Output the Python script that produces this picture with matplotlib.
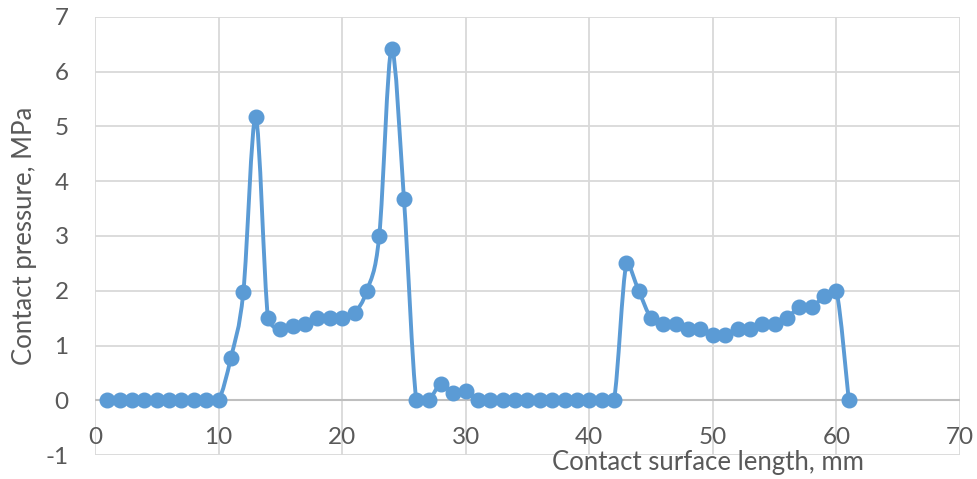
import numpy as np
import matplotlib
matplotlib.use("Agg")
import matplotlib.pyplot as plt
from matplotlib.path import Path
from matplotlib.patches import PathPatch

x_mm = list(range(1, 62))
pressure = [0, 0, 0, 0, 0, 0, 0, 0, 0, 0,
            0.78, 1.97, 5.17, 1.5, 1.3, 1.35, 1.4, 1.5, 1.5, 1.5,
            1.6, 2.0, 3.0, 6.42, 3.68, 0, 0, 0.3, 0.13, 0.17,
            0, 0, 0, 0, 0, 0, 0, 0, 0, 0,
            0, 0, 2.5, 2.0, 1.5, 1.4, 1.4, 1.3, 1.3, 1.2,
            1.2, 1.3, 1.3, 1.4, 1.4, 1.5, 1.7, 1.7, 1.9, 2.0,
            0]
x_ticks = [0, 10, 20, 30, 40, 50, 60, 70]
y_ticks = [-1, 0, 1, 2, 3, 4, 5, 6, 7]
x_label = "Contact surface length, mm"
y_label = "Contact pressure, MPa"

BLUE = "#5b9bd5"
TXT = "#595959"
GRID = "#d9d9d9"

plt.rcParams['font.family'] = ['Lato', 'DejaVu Sans']
plt.rcParams['axes.unicode_minus'] = False

fig = plt.figure(figsize=(9.78, 4.79), dpi=100)
ax = fig.add_axes([95/978, 1-455/479, (960-95)/978, (455-17)/479])
ax.set_xlim(0, 70)
ax.set_ylim(-1, 7)

# Smooth Bezier through the points, control points limited to each segment's range
px = np.array(x_mm, float)
py = np.array(pressure, float)
n = len(px)
verts = [(px[0], py[0])]
codes = [Path.MOVETO]
t = 1/6
for i in range(n-1):
    p0 = (px[max(i-1, 0)], py[max(i-1, 0)])
    p1 = (px[i], py[i])
    p2 = (px[i+1], py[i+1])
    p3 = (px[min(i+2, n-1)], py[min(i+2, n-1)])
    lo, hi = min(p1[1], p2[1]), max(p1[1], p2[1])
    c1 = (p1[0] + (p2[0]-p0[0])*t, np.clip(p1[1] + (p2[1]-p0[1])*t, lo, hi))
    c2 = (p2[0] - (p3[0]-p1[0])*t, np.clip(p2[1] - (p3[1]-p1[1])*t, lo, hi))
    verts += [c1, c2, p2]
    codes += [Path.CURVE4]*3
ax.add_patch(PathPatch(Path(verts, codes), facecolor='none', edgecolor=BLUE,
                       lw=2.8, zorder=3, capstyle='round', joinstyle='round'))
ax.plot(x_mm, pressure, linestyle='none', marker='o', markersize=10.5,
        color=BLUE, zorder=4)

ax.set_xticks(x_ticks)
ax.set_yticks(y_ticks)
ax.grid(True, color=GRID, lw=1.3, zorder=0)
ax.set_axisbelow(True)
for s in ax.spines.values():
    s.set_visible(False)
ax.axhline(0, color="#bfbfbf", lw=1.5, zorder=1)

ax.tick_params(axis='x', length=0, pad=0, labelsize=17.5, colors=TXT)
ax.tick_params(axis='y', length=0, pad=19, labelsize=17.5, colors=TXT)
for lab in ax.get_xticklabels():
    pass
ax.spines['bottom'].set_position(('data', 0))
ax.tick_params(axis='x', pad=19)

ax.set_ylabel(y_label, fontsize=18.5, color=TXT, labelpad=6)
ax.text(0.709, -0.018, x_label, transform=ax.transAxes, ha='center',
        va='center', fontsize=18.5, color=TXT)

fig.savefig("out.png", dpi=100)
